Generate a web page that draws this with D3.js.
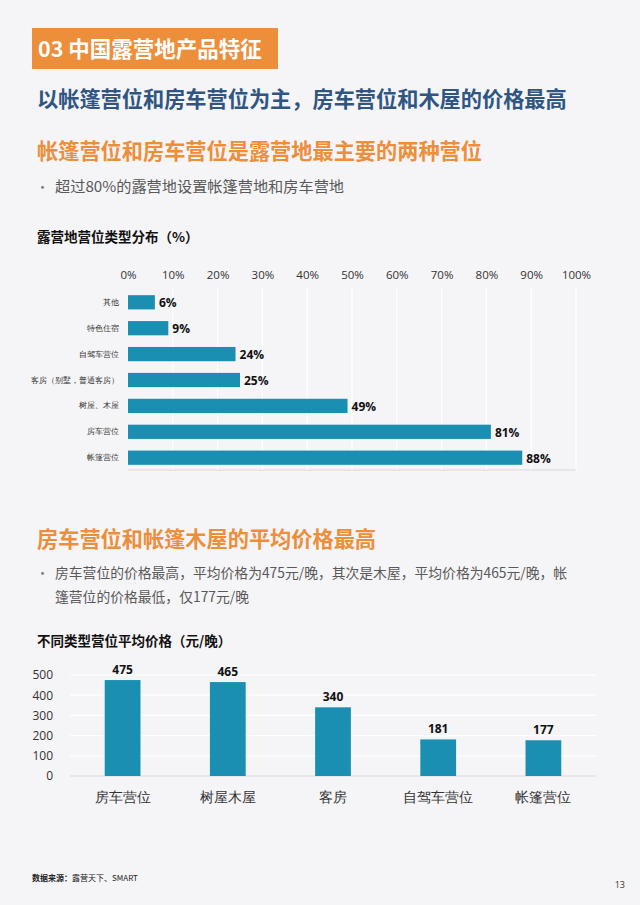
<html lang="zh">
<head>
<meta charset="utf-8">
<style>
  body { margin: 0; background: #f5f4f6; }
  svg { display: block; font-family: "Noto Sans CJK SC", "Open Sans", sans-serif; }
</style>
</head>
<body>
<script src="https://d3js.org/d3.v7.min.js"></script>
<script>
// horizontal chart: share of campsites having each pitch type (%)
var typeNames = ["其他", "特色住宿", "自驾车营位", "客房（别墅，普通客房）", "树屋、木屋", "房车营位", "帐篷营位"];
var typeShares = [6, 9, 24, 25, 49, 81, 88];
var shareTicks = [0, 10, 20, 30, 40, 50, 60, 70, 80, 90, 100];

// vertical chart: average price (yuan / night)
var priceNames = ["房车营位", "树屋木屋", "客房", "自驾车营位", "帐篷营位"];
var priceValues = [475, 465, 340, 181, 177];
var priceTicks = [0, 100, 200, 300, 400, 500];

var W = 640, H = 905;
var barColor = "#1b8fb2";
var orange = "#ec8e3a";

var svg = d3.select("body").append("svg")
    .attr("width", W)
    .attr("height", H);

svg.append("rect").attr("width", W).attr("height", H).attr("fill", "#f5f4f6");

// header block
svg.append("rect")
    .attr("x", 32).attr("y", 28)
    .attr("width", 246).attr("height", 41)
    .attr("fill", orange);
svg.append("text")
    .attr("x", 38).attr("y", 57)
    .attr("fill", "#fff")
    .attr("font-size", 21.5).attr("font-weight", "bold")
    .text("03 中国露营地产品特征");

svg.append("text")
    .attr("x", 37).attr("y", 107)
    .attr("fill", "#2f5683")
    .attr("font-size", 21.2).attr("font-weight", "bold")
    .text("以帐篷营位和房车营位为主，房车营位和木屋的价格最高");

svg.append("text")
    .attr("x", 37).attr("y", 159)
    .attr("fill", orange)
    .attr("font-size", 21.2).attr("font-weight", "bold")
    .text("帐篷营位和房车营位是露营地最主要的两种营位");

function bullet(y, str, size) {
    svg.append("text").attr("x", 36).attr("y", y)
        .attr("fill", "#7a7a7a").attr("font-size", 13).text("•");
    svg.append("text").attr("x", 55).attr("y", y)
        .attr("fill", "#595959").attr("font-size", size).text(str);
}
bullet(192, "超过80%的露营地设置帐篷营地和房车营地", 15.2);

svg.append("text")
    .attr("x", 37).attr("y", 242)
    .attr("fill", "#111")
    .attr("font-size", 13.5).attr("font-weight", "bold")
    .text("露营地营位类型分布（%）");

// ---- horizontal bar chart ----
var x = d3.scaleLinear().domain([0, 100]).range([128, 576]);
var y = d3.scaleBand().domain(typeNames).range([290, 470]).paddingInner(0.45).paddingOuter(0.2);

var g1 = svg.append("g");

g1.selectAll(".vgrid")
    .data(shareTicks.slice(1))
    .enter().append("line")
    .attr("x1", function(d) { return x(d); })
    .attr("x2", function(d) { return x(d); })
    .attr("y1", 288).attr("y2", 470)
    .attr("stroke", "#ffffff").attr("stroke-width", 1.2);

var xAxis = g1.append("g")
    .attr("transform", "translate(0,282)")
    .call(d3.axisTop(x).tickValues(shareTicks).tickFormat(function(d) { return d + "%"; }).tickSize(0));
xAxis.select(".domain").remove();
xAxis.selectAll("text")
    .attr("font-size", 11.5).attr("fill", "#333")
    .attr("font-family", "'Open Sans', sans-serif");

g1.append("line")
    .attr("x1", 128).attr("x2", 576)
    .attr("y1", 470).attr("y2", 470)
    .attr("stroke", "#d9d9d9");

var yAxis = g1.append("g")
    .attr("transform", "translate(122,0)")
    .call(d3.axisLeft(y).tickSize(0));
yAxis.select(".domain").remove();
yAxis.selectAll("text")
    .attr("font-size", 8).attr("fill", "#333");

g1.selectAll(".hbar")
    .data(typeShares)
    .enter().append("rect")
    .attr("x", x(0))
    .attr("y", function(d, i) { return y(typeNames[i]); })
    .attr("width", function(d) { return x(d) - x(0); })
    .attr("height", y.bandwidth())
    .attr("fill", barColor);

g1.selectAll(".hlab")
    .data(typeShares)
    .enter().append("text")
    .attr("x", function(d) { return x(d) + 4; })
    .attr("y", function(d, i) { return y(typeNames[i]) + y.bandwidth() / 2 + 5; })
    .attr("font-size", 12).attr("font-weight", "bold")
    .attr("font-family", "'Open Sans', sans-serif")
    .attr("fill", "#111")
    .text(function(d) { return d + "%"; });

// ---- second section ----
svg.append("text")
    .attr("x", 37).attr("y", 547)
    .attr("fill", orange)
    .attr("font-size", 21.2).attr("font-weight", "bold")
    .text("房车营位和帐篷木屋的平均价格最高");

bullet(578, "房车营位的价格最高，平均价格为475元/晚，其次是木屋，平均价格为465元/晚，帐", 13.8);
svg.append("text").attr("x", 55).attr("y", 602)
    .attr("fill", "#595959").attr("font-size", 13.8)
    .text("篷营位的价格最低，仅177元/晚");

svg.append("text")
    .attr("x", 37).attr("y", 646)
    .attr("fill", "#111")
    .attr("font-size", 13.5).attr("font-weight", "bold")
    .text("不同类型营位平均价格（元/晚）");

// ---- vertical bar chart ----
var bx = d3.scaleBand().domain(priceNames).range([70, 596]).paddingInner(0.66).paddingOuter(0.33);
var by = d3.scaleLinear().domain([0, 500]).range([776, 675]);

var g2 = svg.append("g");

g2.selectAll(".hgrid")
    .data(priceTicks)
    .enter().append("line")
    .attr("x1", 70).attr("x2", 596)
    .attr("y1", function(d) { return by(d); })
    .attr("y2", function(d) { return by(d); })
    .attr("stroke", function(d) { return d === 0 ? "#d9d9d9" : "#ffffff"; })
    .attr("stroke-width", 1.2);

var byAxis = g2.append("g")
    .attr("transform", "translate(56,0)")
    .call(d3.axisLeft(by).tickValues(priceTicks).tickSize(0));
byAxis.select(".domain").remove();
byAxis.selectAll("text")
    .attr("font-size", 12).attr("fill", "#333")
    .attr("font-family", "'Open Sans', sans-serif");

g2.selectAll(".vbar")
    .data(priceValues)
    .enter().append("rect")
    .attr("x", function(d, i) { return bx(priceNames[i]); })
    .attr("y", function(d) { return by(d); })
    .attr("width", bx.bandwidth())
    .attr("height", function(d) { return by(0) - by(d); })
    .attr("fill", barColor);

g2.selectAll(".vlab")
    .data(priceValues)
    .enter().append("text")
    .attr("x", function(d, i) { return bx(priceNames[i]) + bx.bandwidth() / 2; })
    .attr("y", function(d) { return by(d) - 6; })
    .attr("text-anchor", "middle")
    .attr("font-size", 12).attr("font-weight", "bold")
    .attr("font-family", "'Open Sans', sans-serif")
    .attr("fill", "#111")
    .text(function(d) { return d; });

var bxAxis = g2.append("g")
    .attr("transform", "translate(0,789)")
    .call(d3.axisBottom(bx).tickSize(0));
bxAxis.select(".domain").remove();
bxAxis.selectAll("text")
    .attr("font-size", 13.5).attr("fill", "#333");

// footer
var foot = svg.append("text")
    .attr("x", 32).attr("y", 881)
    .attr("font-size", 8).attr("fill", "#222");
foot.append("tspan").attr("font-weight", "bold").text("数据来源：");
foot.append("tspan").text("露营天下、SMART");

svg.append("text")
    .attr("x", 625).attr("y", 888)
    .attr("text-anchor", "end")
    .attr("font-size", 9).attr("fill", "#333")
    .attr("font-family", "'Open Sans', sans-serif")
    .text("13");
</script>
</body>
</html>
